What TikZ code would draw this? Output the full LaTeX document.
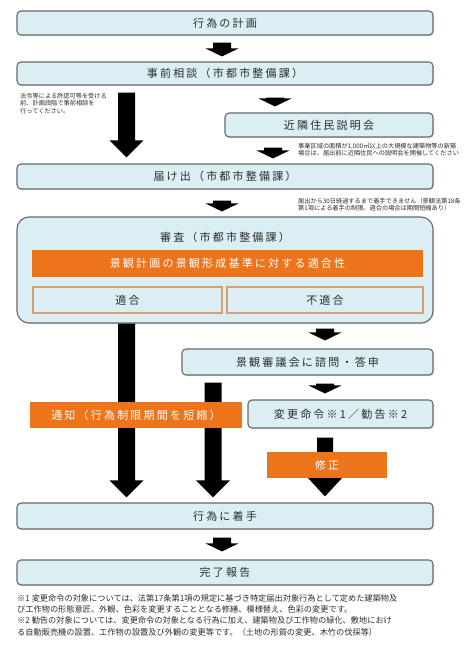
\documentclass[tikz,border=0pt]{standalone}
\usepackage{fontspec}
\setmainfont{Noto Sans CJK JP}
\newfontfamily\boxfont[LetterSpace=20]{Noto Sans CJK JP}
\usetikzlibrary{calc,shadows}
\definecolor{lb}{RGB}{218,238,244}
\definecolor{bd}{RGB}{105,105,105}
\definecolor{org}{RGB}{236,116,26}
\definecolor{tanb}{RGB}{214,160,118}
\definecolor{tx}{RGB}{45,45,45}
\tikzset{
  blk/.style n args={3}{to path={let \p1=(\tikztostart), \p2=(\tikztotarget) in
    (\x1-#1/2,\y1) -- (\x1+#1/2,\y1) -- (\x1+#1/2,\y2+#3) -- (\x1+#2/2,\y2+#3)
    -- (\x1,\y2) -- (\x1-#2/2,\y2+#3) -- (\x1-#1/2,\y2+#3) -- cycle}},
  smallarr/.style={blk={18pt}{33pt}{8pt}},
  bigarr/.style={blk={17pt}{34pt}{17pt}},
  bigtxt/.style={font=\boxfont\fontsize{11}{13}\selectfont},
  box/.style={draw=bd, line width=1.1pt, fill=lb, rounded corners=4pt, inner sep=0pt,
    bigtxt, text=tx, drop shadow={opacity=0.25,shadow xshift=1pt,shadow yshift=-1.2pt}},
  obox/.style={fill=org, inner sep=0pt, text=white, bigtxt},
  tbox/.style={draw=tanb, line width=1.2pt, fill=lb, inner sep=0pt, bigtxt, text=tx},
  note/.style={inner sep=0pt, anchor=north west, align=left, text=tx,
    font=\fontsize{6.2}{7.3}\selectfont},
  foot/.style={inner sep=0pt, anchor=north west, align=left, text=tx,
    font=\fontsize{8.2}{11.3}\selectfont},
}
\begin{document}
\begin{tikzpicture}[x=1pt,y=-1pt]
\useasboundingbox[fill=white] (0,0) rectangle (469,652);
% column coordinates
\coordinate (cM) at (222,0);
\coordinate (cR) at (275,0);
\coordinate (cR2) at (273,0);
\coordinate (cL) at (126.5,0);
\coordinate (cL2) at (213,0);
\coordinate (cF) at (325,0);

\node[box, minimum width=416pt, minimum height=24pt] (keikaku) at (225,23) {行為の計画};
\node[box, minimum width=416pt, minimum height=23pt] (jizen) at (225,73.5) {事前相談（市都市整備課）};
\node[box, minimum width=208pt, minimum height=24pt] (kinrin) at (329,125) {近隣住民説明会};
\node[box, minimum width=416pt, minimum height=25pt] (todoke) at (225,176.5) {届け出（市都市整備課）};

\node[box, rounded corners=12pt, minimum width=416pt, minimum height=106pt] (shinsa) at (225,270) {};
\node[bigtxt, text=tx, inner sep=0pt] (shinsaT) at (225,237) {審査（市都市整備課）};
\node[obox, minimum width=391pt, minimum height=27pt] (bar) at (227.5,263.5) {景観計画の景観形成基準に対する適合性};
\node[tbox, minimum width=189pt, minimum height=26pt] (tekigo) at (127.5,300) {適合};
\node[tbox, minimum width=196pt, minimum height=26pt] (futekigo) at (325,300) {不適合};

\node[box, minimum width=251pt, minimum height=26pt] (shingikai) at (307.5,362) {景観審議会に諮問・答申};
\node[box, minimum width=185pt, minimum height=28pt] (henko) at (340.5,414) {変更命令※1／勧告※2};
\node[box, minimum width=416pt, minimum height=26pt] (chakushu) at (225,516) {行為に着手};
\node[box, minimum width=416pt, minimum height=25pt] (kanryo) at (225,572.5) {完了報告};

% notes
\node[note] (n1) at (20,93) {法令等による許認可等を受ける\\前、計画段階で事前相談を\\行ってください。};
\node[note] (n2) at (298,143) {事業区域の面積が1,000㎡以上の大規模な建築物等の新築\\場合は、届出前に近隣住民への説明会を開催してください};
\node[note] (n3) at (298,198) {届出から30日経過するまで着手できません（景観法第18条\\第1項による着手の制限。適合の場合は期間短縮あり）};

% arrows
\fill[smallarr] ($(cM |- keikaku.south)+(0,7)$) to ($(cM |- jizen.north)+(0,-5)$);
\fill[smallarr] ($(cR |- jizen.south)+(0,12)$) to ($(cR |- kinrin.north)+(0,-6)$);
\fill[smallarr] ($(cR2 |- kinrin.south)+(0,10)$) to ($(cR2 |- todoke.north)+(0,-5)$);
\fill[smallarr] ($(cM |- todoke.south)+(0,11)$) to ($(cM |- shinsa.north)+(0,-5)$);
\fill[bigarr] ($(cL |- jizen.south)+(0,7)$) to ($(cL |- todoke.north)+(0,-6)$);
\fill[smallarr] ($(cF |- shinsa.south)+(0,5)$) to ($(cF |- shingikai.north)+(0,-8)$);
\fill[smallarr] ($(cF |- shingikai.south)+(0,8)$) to ($(cF |- henko.north)+(0,-6)$);
\fill[bigarr] (cL |- shinsa.south) to ($(cL |- chakushu.north)+(0,-5)$);
\fill[bigarr] ($(cL2 |- shingikai.south)+(0,7)$) to ($(cL2 |- chakushu.north)+(0,-5)$);
\fill[blk={16pt}{35pt}{19pt}] ($(cF |- henko.south)+(0,9)$) to ($(cF |- chakushu.north)+(0,-6)$);
\fill[smallarr] ($(cM |- chakushu.south)+(0,8)$) to ($(cM |- kanryo.north)+(0,-8)$);

% orange boxes over the arrows
\node[obox, minimum width=212pt, minimum height=26pt] (tsuchi) at (136,415) {通知（行為制限期間を短縮）};
\node[obox, minimum width=120pt, minimum height=26pt] (shusei) at (327,465) {修正};

% footnotes
\node[foot] (foot) at (17,594) {※1 変更命令の対象については、法第17条第1項の規定に基づき特定届出対象行為として定めた建築物及\\び工作物の形態意匠、外観、色彩を変更することとなる修繕、模様替え、色彩の変更です。\\※2 勧告の対象については、変更命令の対象となる行為に加え、建築物及び工作物の緑化、敷地におけ\\る自動販売機の設置、工作物の設置及び外観の変更等です。（土地の形質の変更、木竹の伐採等）};
\end{tikzpicture}
\end{document}
